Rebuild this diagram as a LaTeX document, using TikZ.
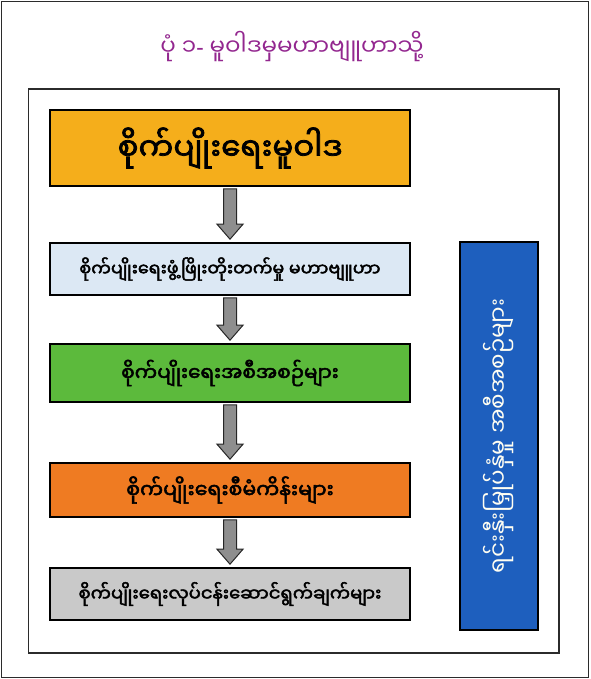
\documentclass[tikz,border=0pt]{standalone}
\usepackage{fontspec}
\usetikzlibrary{calc}
\newfontfamily\mmfont[Script=Myanmar]{Noto Sans Myanmar UI}
\newfontfamily\mmbold[Script=Myanmar,FakeBold=2.5]{Noto Sans Myanmar UI}
\newfontfamily\latinfont{Noto Sans}
\definecolor{titlepurple}{HTML}{93278F}
\definecolor{boxyellow}{HTML}{F5AE1B}
\definecolor{boxlightblue}{HTML}{DCE8F4}
\definecolor{boxgreen}{HTML}{5CBA3C}
\definecolor{boxorange}{HTML}{EF7B22}
\definecolor{boxgray}{HTML}{C9C9C9}
\definecolor{boxblue}{HTML}{1E5FBE}
\definecolor{arrowgray}{HTML}{8E8E8E}
\definecolor{framegray}{HTML}{2B2B2B}
\tikzset{
  stagebox/.style={draw=black, line width=1.6pt, minimum width=360pt, inner sep=0pt},
  blockarr/.style={fill=arrowgray, draw=black!85, line width=1pt, line join=miter},
}
\newcommand{\mmsize}[1]{\mmbold\fontsize{#1}{#1}\selectfont}
\newcommand{\blockarrow}[2]{%
  \draw[blockarr] ($(#1.south)+(-6.5,2)$) -- ($(#1.south)+(6.5,2)$)
    -- ($(#2.north)+(6.5,-18)$) -- ($(#2.north)+(13,-18)$)
    -- ($(#2.north)+(0,-3)$) -- ($(#2.north)+(-13,-18)$)
    -- ($(#2.north)+(-6.5,-18)$) -- cycle;}
\begin{document}
\begin{tikzpicture}[x=1pt,y=-1pt]
\useasboundingbox (0,0) rectangle (590,679);
\draw[framegray, line width=1.3pt] (1.5,1.5) rectangle (588.5,677.5);
\node[font=\mmfont\fontsize{23}{26}\selectfont, text=titlepurple] (title) at (292,47) {ပုံ ၁{\latinfont -} မူဝါဒမှမဟာဗျူဟာသို့};
\draw[framegray, line width=1.6pt] (28.5,89) rectangle (559,653);
\node[stagebox, fill=boxyellow, minimum height=76pt, font=\mmsize{31}] (b1) at (230,148) {စိုက်ပျိုးရေးမူဝါဒ};
\node[stagebox, fill=boxlightblue, minimum height=52pt, font=\mmsize{17.5}] (b2) at (230,269) {စိုက်ပျိုးရေးဖွံ့ဖြိုးတိုးတက်မှု မဟာဗျူဟာ};
\node[stagebox, fill=boxgreen, minimum height=58pt, font=\mmsize{20}] (b3) at (230,373) {စိုက်ပျိုးရေးအစီအစဉ်များ};
\node[stagebox, fill=boxorange, minimum height=54pt, font=\mmsize{20.5}] (b4) at (230,490) {စိုက်ပျိုးရေးစီမံကိန်းများ};
\node[stagebox, fill=boxgray, minimum height=52pt, font=\mmsize{18}] (b5) at (230,594) {စိုက်ပျိုးရေးလုပ်ငန်းဆောင်ရွက်ချက်များ};
\node[draw=black, line width=1.6pt, fill=boxblue, minimum width=78pt, minimum height=388pt, inner sep=0pt] (inv) at (499,436) {};
\node[rotate=90, text=white!95!yellow, font=\mmfont\fontsize{23}{26}\selectfont] (invtext) at (inv.center) {ရင်းနှီးမြှုပ်နှံမှု အစီအစဉ်များ};
\blockarrow{b1}{b2}
\blockarrow{b2}{b3}
\blockarrow{b3}{b4}
\blockarrow{b4}{b5}
\end{tikzpicture}
\end{document}
